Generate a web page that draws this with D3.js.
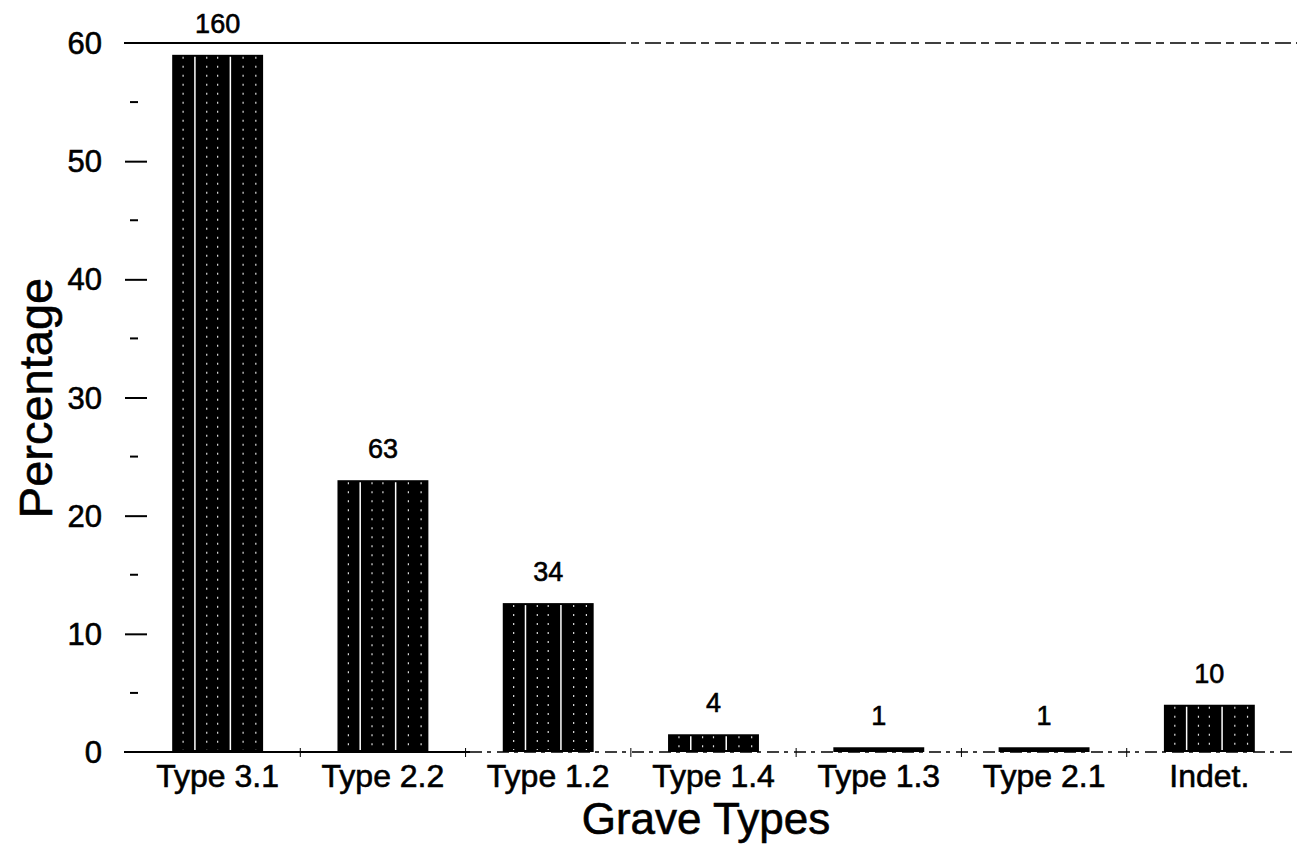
<!DOCTYPE html>
<html>
<head>
<meta charset="utf-8">
<script src="https://cdn.jsdelivr.net/npm/d3@7"></script>
<style>
  html, body { margin: 0; padding: 0; background: #fff; }
  svg { display: block; }
  text { font-family: "Liberation Sans", Arial, sans-serif; fill: #000; stroke: #000; stroke-width: 0.6px; }
</style>
</head>
<body>
<svg id="chart" width="1297" height="860"></svg>
<script>
// ---- data ----
const categories = ["Type 3.1", "Type 2.2", "Type 1.2", "Type 1.4", "Type 1.3", "Type 2.1", "Indet."];
const percentages = [59.0, 23.0, 12.6, 1.5, 0.4, 0.4, 4.0];
const counts = [160, 63, 34, 4, 1, 1, 10];
const yMajorTicks = [0, 10, 20, 30, 40, 50, 60];
const yMinorTicks = [5, 15, 25, 35, 45, 55];
const xTitle = "Grave Types";
const yTitle = "Percentage";

// ---- layout ----
const W = 1297, H = 860;
const svg = d3.select("#chart");
const y = d3.scaleLinear().domain([0, 60]).range([752, 43]);
const x = d3.scaleBand().domain(categories).range([135, 1292]).paddingInner(0.45).paddingOuter(0.225);

// top line (y = 60)
const topY = y(60);
svg.append("line").attr("x1", 124).attr("x2", 610).attr("y1", topY).attr("y2", topY)
  .attr("stroke", "#000").attr("stroke-width", 2);
svg.append("line").attr("x1", 610).attr("x2", W).attr("y1", topY).attr("y2", topY)
  .attr("stroke", "#000").attr("stroke-width", 1.5).attr("stroke-dasharray", "16,5,8,6");

// y axis ticks (no domain line)
const yAxis = d3.axisLeft(y).tickValues(yMajorTicks.filter(d => d !== 60 && d !== 0)).tickSize(22).tickFormat("");
const gy = svg.append("g").attr("transform", "translate(147,0)").call(yAxis);
gy.select(".domain").remove();
gy.selectAll(".tick line").attr("stroke", "#000").attr("stroke-width", 2);

const gMinor = svg.append("g");
gMinor.selectAll("line").data(yMinorTicks).join("line")
  .attr("x1", 130).attr("x2", 138)
  .attr("y1", d => y(d)).attr("y2", d => y(d))
  .attr("stroke", "#000").attr("stroke-width", 2);

// y tick labels
svg.append("g").selectAll("text").data(yMajorTicks).join("text")
  .attr("x", 102).attr("y", d => y(d))
  .attr("dy", "0.36em")
  .attr("text-anchor", "end")
  .style("font-size", "31px")
  .text(d => d);

// bars
const barG = svg.append("g");
barG.selectAll("rect").data(categories).join("rect")
  .attr("x", d => x(d))
  .attr("y", (d, i) => y(percentages[i]))
  .attr("width", x.bandwidth())
  .attr("height", (d, i) => y(0) - y(percentages[i]))
  .attr("fill", "#000");

// bar texture: thin light vertical streaks
const solidStreaks = [0.25, 0.64];
const dottedStreaks = [0.12, 0.38, 0.5, 0.78, 0.92];
categories.forEach((c, i) => {
  const top = y(percentages[i]) + 2, bot = y(0) - 2;
  if (bot - top < 6) return;
  solidStreaks.forEach(f => {
    barG.append("line")
      .attr("x1", x(c) + f * x.bandwidth()).attr("x2", x(c) + f * x.bandwidth())
      .attr("y1", top).attr("y2", bot)
      .attr("stroke", "#fff").attr("stroke-width", 1.5);
  });
  dottedStreaks.forEach(f => {
    barG.append("line")
      .attr("x1", x(c) + f * x.bandwidth()).attr("x2", x(c) + f * x.bandwidth())
      .attr("y1", top).attr("y2", bot)
      .attr("stroke", "#ddd").attr("stroke-width", 1.2)
      .attr("stroke-dasharray", "2,7");
  });
});

// baseline (y = 0)
const baseY = y(0);
svg.append("line").attr("x1", 124).attr("x2", 470).attr("y1", baseY).attr("y2", baseY)
  .attr("stroke", "#000").attr("stroke-width", 2);
svg.append("line").attr("x1", 470).attr("x2", W).attr("y1", baseY).attr("y2", baseY)
  .attr("stroke", "#000").attr("stroke-width", 1.5).attr("stroke-dasharray", "12,5,4,6");

// x axis: small ticks at band boundaries, labels at centers
const boundaries = categories.slice(1).map(c => x(c) - x.step() * x.paddingInner() / 2);
svg.append("g").selectAll("line").data(boundaries).join("line")
  .attr("x1", d => d).attr("x2", d => d)
  .attr("y1", baseY - 4).attr("y2", baseY + 5)
  .attr("stroke", "#000").attr("stroke-width", 1);

svg.append("g").selectAll("text").data(categories).join("text")
  .attr("x", d => x(d) + x.bandwidth() / 2)
  .attr("y", 787)
  .attr("text-anchor", "middle")
  .style("font-size", "32px")
  .text(d => d);

// count labels above bars
svg.append("g").selectAll("text").data(categories).join("text")
  .attr("x", d => x(d) + x.bandwidth() / 2)
  .attr("y", (d, i) => y(percentages[i]) - 22)
  .attr("text-anchor", "middle")
  .style("font-size", "27px")
  .text((d, i) => counts[i]);

// axis titles
svg.append("text")
  .attr("x", 706).attr("y", 834)
  .attr("text-anchor", "middle")
  .style("font-size", "44px")
  .text(xTitle);

svg.append("text")
  .attr("transform", "translate(52,398) rotate(-90)")
  .attr("text-anchor", "middle")
  .style("font-size", "47px")
  .text(yTitle);
</script>
</body>
</html>
